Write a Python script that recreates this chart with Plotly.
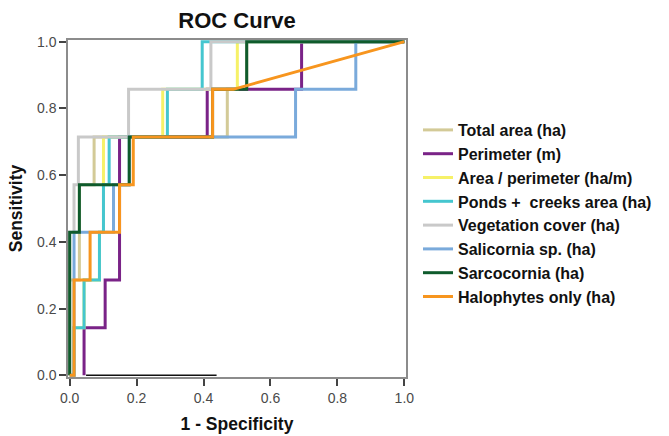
import plotly.graph_objects as go

# 7 positives -> sensitivity steps of 1/7
S = [i / 7 for i in range(8)]

names = ["Total area (ha)", "Perimeter (m)", "Area / perimeter (ha/m)",
         "Ponds +  creeks area (ha)", "Vegetation cover (ha)",
         "Salicornia sp. (ha)", "Sarcocornia (ha)", "Halophytes only (ha)"]
colors = ["#d3ca97", "#7a2387", "#f6f168", "#45c6cf", "#c9c9c9",
          "#7aaadb", "#0f5b2c", "#f7951e"]

# 1 - specificity / sensitivity pairs for each curve
total_x = [0, 0, 0.029, 0.029, 0.073, 0.073, 0.471, 0.471, 0.529, 0.529, 1]
total_y = [S[0], S[2], S[2], S[4], S[4], S[5], S[5], S[6], S[6], S[7], S[7]]

perim_x = [0.043, 0.043, 0.106, 0.106, 0.149, 0.149, 0.411, 0.411, 0.693, 0.693, 1]
perim_y = [S[0], S[1], S[1], S[2], S[2], S[5], S[5], S[6], S[6], S[7], S[7]]

ratio_x = [0, 0.013, 0.013, 0.043, 0.043, 0.089, 0.089, 0.101, 0.101, 0.278, 0.278, 0.501, 0.501, 1]
ratio_y = [S[0], S[0], S[1], S[1], S[2], S[2], S[3], S[3], S[5], S[5], S[6], S[6], S[7], S[7]]

ponds_x = [0, 0.013, 0.013, 0.043, 0.043, 0.089, 0.089, 0.101, 0.101, 0.118, 0.118, 0.292, 0.292, 0.396, 0.396, 1]
ponds_y = [S[0], S[0], S[1], S[1], S[2], S[2], S[3], S[3], S[4], S[4], S[5], S[5], S[6], S[6], S[7], S[7]]

veg_x = [0, 0, 0.013, 0.013, 0.026, 0.026, 0.176, 0.176, 0.422, 0.422, 1]
veg_y = [S[0], S[3], S[3], S[4], S[4], S[5], S[5], S[6], S[6], S[7], S[7]]

sali_x = [0, 0.013, 0.013, 0.131, 0.131, 0.178, 0.178, 0.675, 0.675, 0.855, 0.855, 1]
sali_y = [S[0], S[0], S[3], S[3], S[4], S[4], S[5], S[5], S[6], S[6], S[7], S[7]]

sarco_x = [0, 0, 0.029, 0.029, 0.178, 0.178, 0.427, 0.427, 0.529, 0.529, 1]
sarco_y = [S[0], S[3], S[3], S[4], S[4], S[5], S[5], S[6], S[6], S[7], S[7]]

halo_x = [0, 0.013, 0.013, 0.061, 0.061, 0.149, 0.149, 0.19, 0.19, 0.427, 0.427, 0.489, 1]
halo_y = [S[0], S[0], S[2], S[2], S[3], S[3], S[4], S[4], S[5], S[5], S[6], S[6], S[7]]

base_x = [0.049, 0.439]
base_y = [0, 0]

tick_vals = [0.0, 0.2, 0.4, 0.6, 0.8, 1.0]
tick_text = ["0.0", "0.2", "0.4", "0.6", "0.8", "1.0"]

series = [(total_x, total_y), (perim_x, perim_y), (ratio_x, ratio_y),
          (ponds_x, ponds_y), (veg_x, veg_y), (sali_x, sali_y),
          (sarco_x, sarco_y), (halo_x, halo_y)]

fig = go.Figure()
fig.add_trace(go.Scatter(x=base_x, y=base_y, mode="lines", showlegend=False,
                         line=dict(color="#111111", width=1.5), hoverinfo="skip"))
for i, ((xs, ys), n, c) in enumerate(zip(series, names, colors)):
    fig.add_trace(go.Scatter(x=xs, y=ys, mode="lines", name=n,
                             line=dict(color=c, width=3)))

font = "Liberation Sans, Arial, sans-serif"
axis_common = dict(
    range=[-0.005, 1.005], tickvals=tick_vals, ticktext=tick_text,
    showgrid=False, zeroline=False, showline=True, linecolor="#8c8c8c",
    linewidth=1.5, mirror=True, ticks="outside", ticklen=7, tickwidth=1.5,
    tickcolor="#444444", tickfont=dict(family=font, size=14, color="#4a4a4a"),
)
fig.update_layout(
    width=669, height=436,
    margin=dict(l=68, r=263, t=40, b=59, autoexpand=False),
    paper_bgcolor="white", plot_bgcolor="white",
    title=dict(text="<b>ROC Curve</b>", x=237 / 669, xanchor="center",
               y=1 - 20 / 436, yanchor="middle",
               font=dict(family=font, size=22, color="#111111")),
    xaxis=dict(**axis_common,
               title=dict(text="<b>1 - Specificity</b>", standoff=13,
                          font=dict(family=font, size=17.5, color="#111111"))),
    yaxis=dict(**axis_common,
               title=dict(text="<b>Sensitivity</b>", standoff=10,
                          font=dict(family=font, size=17.5, color="#111111"))),
    legend=dict(xref="container", yref="container", x=418 / 669, y=1 - 113 / 436,
                xanchor="left", yanchor="top",
                font=dict(family=font, size=16, color="#111111", weight="bold"),
                bgcolor="rgba(0,0,0,0)", itemwidth=30),
)
fig.write_html("out.html")
